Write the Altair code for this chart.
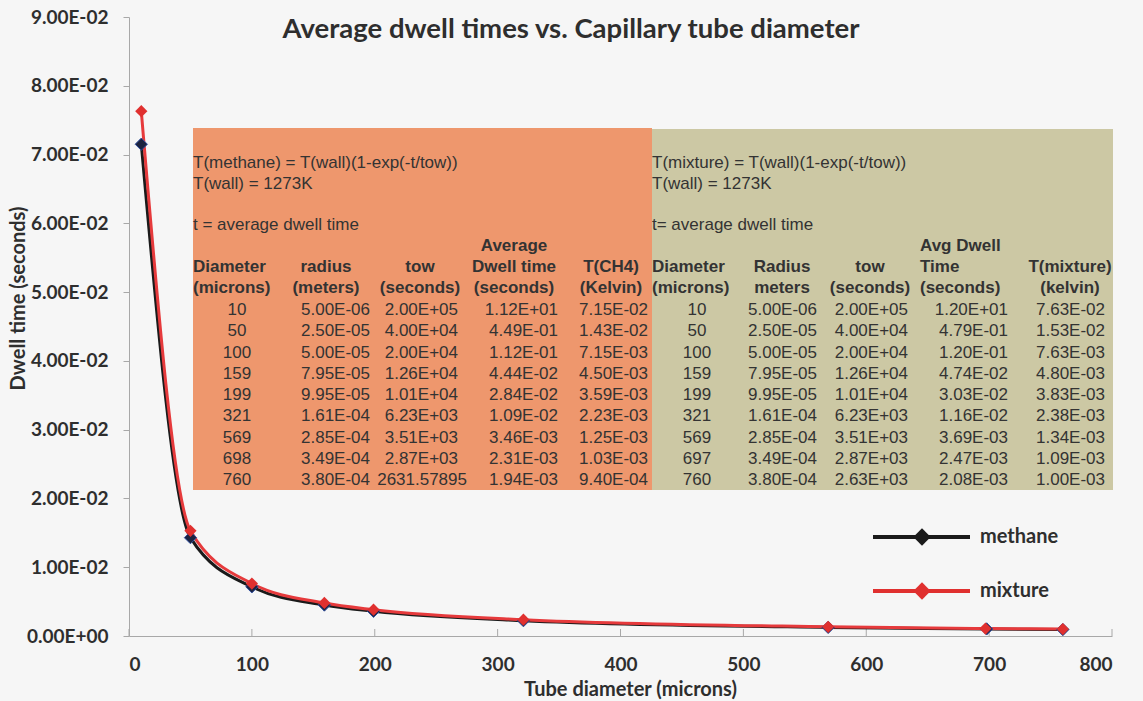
import altair as alt
import pandas as pd

# ---------------- data ----------------
title_text = "Average dwell times vs. Capillary tube diameter"
series_names = ["methane", "mixture"]

meth_diam = [10, 50, 100, 159, 199, 321, 569, 698, 760]
meth_radius = ["5.00E-06", "2.50E-05", "5.00E-05", "7.95E-05", "9.95E-05", "1.61E-04", "2.85E-04", "3.49E-04", "3.80E-04"]
meth_tow = ["2.00E+05", "4.00E+04", "2.00E+04", "1.26E+04", "1.01E+04", "6.23E+03", "3.51E+03", "2.87E+03", "2631.57895"]
meth_dwell = ["1.12E+01", "4.49E-01", "1.12E-01", "4.44E-02", "2.84E-02", "1.09E-02", "3.46E-03", "2.31E-03", "1.94E-03"]
meth_T = ["7.15E-02", "1.43E-02", "7.15E-03", "4.50E-03", "3.59E-03", "2.23E-03", "1.25E-03", "1.03E-03", "9.40E-04"]

mix_diam = [10, 50, 100, 159, 199, 321, 569, 697, 760]
mix_radius = ["5.00E-06", "2.50E-05", "5.00E-05", "7.95E-05", "9.95E-05", "1.61E-04", "2.85E-04", "3.49E-04", "3.80E-04"]
mix_tow = ["2.00E+05", "4.00E+04", "2.00E+04", "1.26E+04", "1.01E+04", "6.23E+03", "3.51E+03", "2.87E+03", "2.63E+03"]
mix_dwell = ["1.20E+01", "4.79E-01", "1.20E-01", "4.74E-02", "3.03E-02", "1.16E-02", "3.69E-03", "2.47E-03", "2.08E-03"]
mix_T = ["7.63E-02", "1.53E-02", "7.63E-03", "4.80E-03", "3.83E-03", "2.38E-03", "1.34E-03", "1.09E-03", "1.00E-03"]

meth_notes = ["T(methane) = T(wall)(1-exp(-t/tow))", "T(wall) = 1273K", "t = average dwell time"]
mix_notes = ["T(mixture) = T(wall)(1-exp(-t/tow))", "T(wall) = 1273K", "t= average dwell time"]
meth_headers = [["", "", "", "Average", ""],
                ["Diameter", "radius", "tow", "Dwell time", "T(CH4)"],
                ["(microns)", "(meters)", "(seconds)", "(seconds)", "(Kelvin)"]]
mix_headers = [["", "", "", "Avg Dwell", ""],
               ["Diameter", "Radius", "tow", "Time", "T(mixture)"],
               ["(microns)", "meters", "(seconds)", "(seconds)", "(kelvin)"]]

x_ticks = [0, 100, 200, 300, 400, 500, 600, 700, 800]
y_ticks = [0.0, 0.01, 0.02, 0.03, 0.04, 0.05, 0.06, 0.07, 0.08, 0.09]

# ---------------- layout ----------------
LEFT, TOP, W, H = 129, 17, 983, 619
def px(v): return v - LEFT
def py(v): return v - TOP

DARK = "#2e2e2e"
TABLE_TXT = "#333333"
BLACK_LINE = "#1a1a1a"
RED = "#e63a3c"
ORANGE = "#ee976d"
OLIVE = "#ccc8a4"
TFONT = "Liberation Sans"
TSIZE = 17
FONT = "Lato"

# ---------------- table backgrounds ----------------
rects = pd.DataFrame({
    "x": [px(193), px(652)], "x2": [px(652), px(1113)],
    "y": [py(128), py(129)], "y2": [py(490), py(490)],
    "fill": [ORANGE, OLIVE],
})
rect_layer = alt.Chart(rects).mark_rect().encode(
    x=alt.X("x:Q", scale=None, axis=None), x2="x2:Q",
    y=alt.Y("y:Q", scale=None, axis=None), y2="y2:Q",
    fill=alt.Fill("fill:N", scale=None),
)

# ---------------- table text cells ----------------
cells = []  # x, y, text, align, weight
note_ys = [163, 184, 225]
head_ys = [246, 267, 288]
row_y0, row_dy = 310, 21.25

def add_table(left, notes, headers, head_pos, cols, data_pos):
    for t, yy in zip(notes, note_ys):
        cells.append((left, yy, t, "left", "normal"))
    for r, row in enumerate(headers):
        for c, t in enumerate(row):
            if t:
                xx, al = head_pos[c]
                cells.append((xx, head_ys[r], t, al, "bold"))
    for c, col in enumerate(cols):
        for i, t in enumerate(col):
            xx, al = data_pos[c]
            if al == "right" and "E" not in str(t):
                xx += 9
            cells.append((xx, row_y0 + row_dy * i, str(t), al, "normal"))

add_table(193, meth_notes, meth_headers,
          [(193, "left"), (326, "center"), (420, "center"), (514, "center"), (611, "center")],
          [meth_diam, meth_radius, meth_tow, meth_dwell, meth_T],
          [(237, "center"), (370, "right"), (458, "right"), (558, "right"), (648, "right")])
add_table(652, mix_notes, mix_headers,
          [(652, "left"), (782, "center"), (870, "center"), (920, "left"), (1070, "center")],
          [mix_diam, mix_radius, mix_tow, mix_dwell, mix_T],
          [(697, "center"), (817, "right"), (908, "right"), (1008, "right"), (1105, "right")])

cells_df = pd.DataFrame(cells, columns=["x", "y", "text", "align", "weight"])
cells_df["x"] = cells_df["x"] - LEFT
cells_df["y"] = cells_df["y"] - TOP

text_layers = []
for (al, wt), g in cells_df.groupby(["align", "weight"]):
    text_layers.append(
        alt.Chart(g.reset_index(drop=True)).mark_text(
            align=al, baseline="middle", font=TFONT, fontSize=TSIZE,
            fontWeight=wt, color=TABLE_TXT,
        ).encode(
            x=alt.X("x:Q", scale=None, axis=None),
            y=alt.Y("y:Q", scale=None, axis=None),
            text="text:N",
        )
    )

# ---------------- data series ----------------
df_m = pd.DataFrame({"d": meth_diam, "v": [float(s) for s in meth_T]})
df_x = pd.DataFrame({"d": mix_diam, "v": [float(s) for s in mix_T]})

xscale = alt.Scale(domain=[0, 800], nice=False, zero=False)
yscale = alt.Scale(domain=[0, 0.09], nice=False)

x_axis = alt.Axis(
    values=x_ticks, format="d", grid=False, tickSize=0,
    domainColor="#a8a8a8", domainWidth=1,
    labelFont=FONT, labelFontSize=19, labelFontWeight="bold", labelColor=DARK,
    labelPadding=19,
    title="Tube diameter (microns)", titleFont=FONT, titleFontSize=20,
    titleFontWeight="bold", titleColor=DARK,
    titleX=630 - LEFT, titleY=53, titleAlign="center", titleBaseline="middle",
)
y_axis = alt.Axis(
    values=y_ticks, grid=False, tickSize=6, tickColor="#a8a8a8",
    domainColor="#a8a8a8", domainWidth=1,
    labelExpr="datum.value == 0 ? '0.00E+00' : format(datum.value * 100, '.2f') + 'E-02'",
    labelFont=FONT, labelFontSize=19, labelFontWeight="bold", labelColor=DARK,
    labelPadding=15,
    title="Dwell time (seconds)", titleFont=FONT, titleFontSize=20,
    titleFontWeight="bold", titleColor=DARK,
    titleX=18 - LEFT, titleY=298 - TOP, titleAngle=270, titleAlign="center", titleBaseline="middle",
)
X = alt.X("d:Q", scale=xscale, axis=x_axis)
Y = alt.Y("v:Q", scale=yscale, axis=y_axis)

tick_rules = alt.Chart(pd.DataFrame({"d": x_ticks})).mark_rule(
    color="#a8a8a8", strokeWidth=1
).encode(x=X, y=alt.value(H), y2=alt.value(H - 7))

line_m = alt.Chart(df_m).mark_line(interpolate="monotone", strokeWidth=3, color=BLACK_LINE).encode(x=X, y=Y)
line_x = alt.Chart(df_x).mark_line(interpolate="monotone", strokeWidth=3, color=RED).encode(x=X, y=Y)
pts_m = alt.Chart(df_m).mark_point(
    shape="diamond", filled=True, size=150, fill="#1c2340", stroke="#2f4f9f",
    strokeWidth=1, opacity=1
).encode(x=X, y=Y)
pts_x = alt.Chart(df_x).mark_point(
    shape="diamond", filled=True, size=150, fill="#e0302f", opacity=1
).encode(x=X, y=Y)

data_layer = alt.layer(tick_rules, line_m, line_x, pts_m, pts_x)

# ---------------- legend ----------------
leg = pd.DataFrame({"name": series_names, "color": [BLACK_LINE, "#e0302f"],
                    "ly": [py(537), py(591)]})
leg_rule = alt.Chart(leg).mark_rule(strokeWidth=4).encode(
    x=alt.value(px(873)), x2=alt.value(px(970)),
    y=alt.Y("ly:Q", scale=None, axis=None),
    color=alt.Color("color:N", scale=None),
)
leg_pt = alt.Chart(leg).mark_point(shape="diamond", filled=True, size=300, opacity=1).encode(
    x=alt.value(px(922)),
    y=alt.Y("ly:Q", scale=None, axis=None),
    fill=alt.Fill("color:N", scale=None),
)
leg_txt = alt.Chart(leg).mark_text(
    align="left", baseline="middle", font=FONT, fontSize=20, fontWeight="bold", color=DARK
).encode(
    x=alt.value(px(980)),
    y=alt.Y("ly:Q", scale=None, axis=None),
    text="name:N",
)

# ---------------- title ----------------
title_layer = alt.Chart(pd.DataFrame({"t": [title_text]})).mark_text(
    align="center", baseline="middle", font=FONT, fontSize=27.5, fontWeight="bold", color=DARK
).encode(x=alt.value(px(571)), y=alt.value(py(30)), text="t:N")

chart = alt.layer(
    rect_layer, *text_layers, data_layer, leg_rule, leg_pt, leg_txt, title_layer
).resolve_scale(
    x="independent", y="independent"
).properties(
    width=W, height=H,
    autosize=alt.AutoSizeParams(type="none"),
    padding={"left": LEFT, "top": TOP, "right": 1143 - LEFT - W, "bottom": 701 - TOP - H},
    background="#f6f6f6",
).configure_view(strokeWidth=0)

chart.save("out.html", embed_options={"renderer": "svg", "actions": False})
